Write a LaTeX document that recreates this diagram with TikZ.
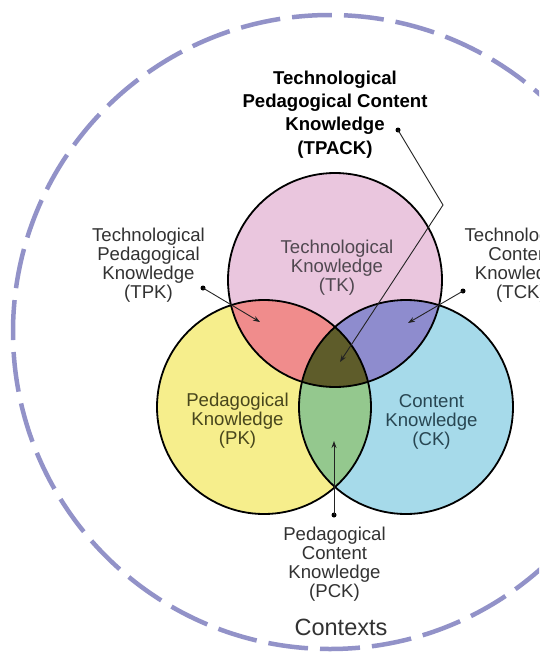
\documentclass[tikz,border=0pt]{standalone}
\usepackage{fontspec}
\setmainfont{Liberation Sans}
\usetikzlibrary{arrows.meta}
\definecolor{tkfill}{RGB}{234,198,222}
\definecolor{pkfill}{RGB}{246,238,140}
\definecolor{ckfill}{RGB}{166,218,234}
\definecolor{tpkfill}{RGB}{240,140,140}
\definecolor{tckfill}{RGB}{142,140,206}
\definecolor{pckfill}{RGB}{148,200,142}
\definecolor{tpackfill}{RGB}{94,92,42}
\definecolor{ctxline}{RGB}{146,146,200}
\definecolor{labtext}{RGB}{50,50,50}
\definecolor{tktext}{RGB}{80,72,80}
\definecolor{pktext}{RGB}{72,70,28}
\definecolor{cktext}{RGB}{40,70,82}
\definecolor{connline}{RGB}{35,35,35}
\begin{document}
\begin{tikzpicture}[x=1pt,y=-1pt,
  lab/.style={align=center,anchor=base,inner sep=0pt,text=labtext,
    font=\fontsize{18.6}{18.9}\selectfont},
  titlelab/.style={align=center,anchor=base,inner sep=0pt,text=black,
    font=\fontsize{18.6}{23.3}\selectfont\bfseries},
  ctxlab/.style={anchor=base,inner sep=0pt,text=labtext,
    font=\fontsize{23.5}{26}\selectfont},
  dotmark/.style={circle,fill=black,inner sep=0pt,minimum size=5pt},
  conn/.style={draw=connline,line width=0.9pt},
  connarrow/.style={conn,-{Stealth[length=7pt,width=5pt]}},
  ring/.style={draw=black,line width=1.8pt},
  outer/.style={draw=ctxline,line width=4.5pt,dash pattern=on 40pt off 12pt}
]
\useasboundingbox (0,0) rectangle (539,653);
\clip (0,0) rectangle (539,653);
\fill[white] (0,0) rectangle (539,653);

% outer context
\draw[outer] (330,332) circle[radius=317];

% circle centres
\coordinate (T) at (335,280);
\coordinate (P) at (264,407);
\coordinate (C) at (406,407);
\def\R{107}

% base fills
\fill[tkfill] (T) circle[radius=\R];
\fill[pkfill] (P) circle[radius=\R];
\fill[ckfill] (C) circle[radius=\R];
% pairwise intersections
\begin{scope}
  \clip (T) circle[radius=\R];
  \fill[tpkfill] (P) circle[radius=\R];
  \fill[tckfill] (C) circle[radius=\R];
\end{scope}
\begin{scope}
  \clip (P) circle[radius=\R];
  \fill[pckfill] (C) circle[radius=\R];
\end{scope}
\begin{scope}
  \clip (T) circle[radius=\R];
  \clip (P) circle[radius=\R];
  \fill[tpackfill] (C) circle[radius=\R];
\end{scope}
% outlines
\draw[ring] (T) circle[radius=\R];
\draw[ring] (P) circle[radius=\R];
\draw[ring] (C) circle[radius=\R];

% circle labels (anchored at the baseline of the last line)
\node[lab,text=tktext] (tk) at (337,291) {Technological\\Knowledge\\(TK)};
\node[lab,text=pktext] (pk) at (237.5,444) {Pedagogical\\Knowledge\\(PK)};
\node[lab,text=cktext] (ck) at (431.5,445) {Content\\Knowledge\\(CK)};

% outside labels
\node[titlelab] (tpack) at (335,154) {Technological\\Pedagogical Content\\Knowledge\\(TPACK)};
\node[lab] (tpk) at (148.5,298) {Technological\\Pedagogical\\Knowledge\\(TPK)};
\node[lab] (tck) at (521,298) {Technological\\Content\\Knowledge\\(TCK)};
\node[lab] (pck) at (334.5,597) {Pedagogical\\Content\\Knowledge\\(PCK)};
\node[ctxlab] (ctx) at (341,635) {Contexts};

% dots and connectors
\node[dotmark] (d1) at (398,130) {};
\node[dotmark] (d2) at (203,288) {};
\node[dotmark] (d3) at (463,291) {};
\node[dotmark] (d4) at (334,515) {};
\coordinate (b1) at (443,205);
\coordinate (a1) at (340,362);
\coordinate (a2) at (260,322);
\coordinate (a3) at (408,323);
\coordinate (a4) at (334,441);
\draw[connarrow] (d1.center) -- (b1) -- (a1);
\draw[connarrow] (d2.center) -- (a2);
\draw[connarrow] (d3.center) -- (a3);
\draw[connarrow] (d4.center) -- (a4);
\end{tikzpicture}
\end{document}
